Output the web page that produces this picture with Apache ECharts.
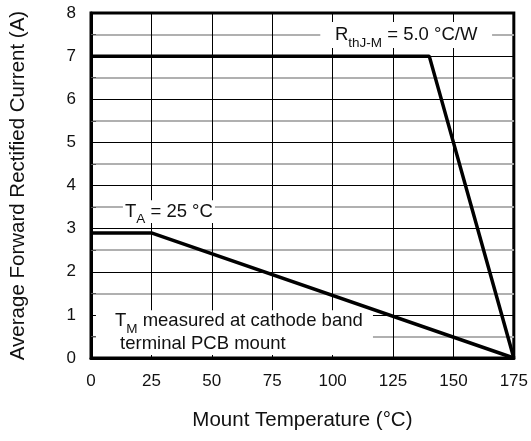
<!DOCTYPE html>
<html>
<head>
<meta charset="utf-8">
<script src="https://cdn.jsdelivr.net/npm/echarts@6/dist/echarts.min.js"></script>
<style>
  html, body { margin: 0; padding: 0; background: #fff; }
  #chart { width: 531px; height: 441px; }
</style>
</head>
<body>
<div id="chart"></div>
<script>
// ---- data ----
const mountTemp = [0, 140, 175];          // °C, R_thJ-M = 5.0 °C/W curve
const mountCurrent = [7, 7, 0];           // A
const ambientTemp = [0, 25, 175];         // °C, T_A = 25 °C curve
const ambientCurrent = [2.9, 2.9, 0];     // A
const xTicks = [0, 25, 50, 75, 100, 125, 150, 175];
const yTicks = [0, 1, 2, 3, 4, 5, 6, 7, 8];
const xTitle = 'Mount Temperature (°C)';
const yTitle = 'Average Forward Rectified Current (A)';

const FONT = "'Liberation Sans', Arial, Helvetica, sans-serif";

function pairs(xs, ys) { return xs.map((x, i) => [x, ys[i]]); }

const chart = echarts.init(document.getElementById('chart'), null, { renderer: 'canvas' });

const mainStyle = { fontFamily: FONT, fontSize: 18.5, color: '#111', lineHeight: 22 };
const subStyle = { fontFamily: FONT, fontSize: 13.5, color: '#111', lineHeight: 13, verticalAlign: 'bottom', padding: [0, 0, -4, 0] };

const option = {
  backgroundColor: '#fff',
  animation: false,
  textStyle: { fontFamily: FONT },
  grid: {
    left: 88, right: 17, top: 13, bottom: 83,
    show: true, borderColor: '#000', borderWidth: 3, backgroundColor: '#fff'
  },
  xAxis: {
    type: 'value',
    min: xTicks[0], max: xTicks[xTicks.length - 1], interval: 25,
    name: xTitle, nameLocation: 'middle', nameGap: 52,
    nameTextStyle: { fontFamily: FONT, fontSize: 20.5, color: '#111' },
    axisLine: { show: true, lineStyle: { color: '#000', width: 3 } },
    axisTick: { show: true, inside: true, length: 5, lineStyle: { color: '#000', width: 1 } },
    axisLabel: { fontFamily: FONT, fontSize: 17, color: '#111', margin: 15 },
    splitLine: { show: true, lineStyle: { color: '#000', width: 1 } }
  },
  yAxis: {
    type: 'value',
    min: yTicks[0], max: yTicks[yTicks.length - 1], interval: 1,
    name: yTitle, nameLocation: 'middle', nameGap: 62,
    nameTextStyle: { fontFamily: FONT, fontSize: 20.5, color: '#111' },
    axisLine: { show: true, lineStyle: { color: '#000', width: 3 } },
    axisTick: { show: true, inside: true, length: 5, lineStyle: { color: '#000', width: 1 } },
    minorTick: { show: true, splitNumber: 2, length: 5, lineStyle: { color: '#555', width: 1 } },
    axisLabel: { fontFamily: FONT, fontSize: 17, color: '#111', margin: 15 },
    splitLine: { show: true, lineStyle: { color: '#000', width: 1 } },
    minorSplitLine: { show: true, lineStyle: { color: '#b0b0b0', width: 2 } }
  },
  series: [
    {
      type: 'line', name: 'annotations', data: [], z: 3, silent: true,
      markArea: {
        silent: true,
        itemStyle: { color: '#fff', opacity: 1, borderWidth: 0 },
        data: [
          [
            { coord: [94.9, 7.79], label: {
                show: true, position: 'inside',
                formatter: '{m|R}{s|thJ-M}{m| = 5.0 °C/W}',
                rich: { m: mainStyle, s: subStyle } } },
            { coord: [166, 7.19] }
          ],
          [
            { coord: [13.2, 3.66], label: {
                show: true, position: 'inside',
                formatter: '{m|T}{s|A}{m| = 25 °C}',
                rich: { m: mainStyle, s: subStyle } } },
            { coord: [51.3, 3.13] }
          ],
          [
            { coord: [2.05, 1.11], label: {
                show: true, position: 'insideLeft', distance: 19,
                formatter: '{m|T}{s|M}{m| measured at cathode band}\n{m| terminal PCB mount}',
                rich: { m: Object.assign({}, mainStyle, { lineHeight: 23 }), s: subStyle } } },
            { coord: [116.7, 0.07] }
          ]
        ]
      }
    },
    {
      type: 'line', name: 'R_thJ-M = 5.0 °C/W', data: pairs(mountTemp, mountCurrent),
      symbol: 'none', z: 5, lineStyle: { color: '#000', width: 3.5 }, clip: false
    },
    {
      type: 'line', name: 'T_A = 25 °C', data: pairs(ambientTemp, ambientCurrent),
      symbol: 'none', z: 5, lineStyle: { color: '#000', width: 3.5 }, clip: false
    }
  ]
};
chart.setOption(option);
</script>
</body>
</html>
